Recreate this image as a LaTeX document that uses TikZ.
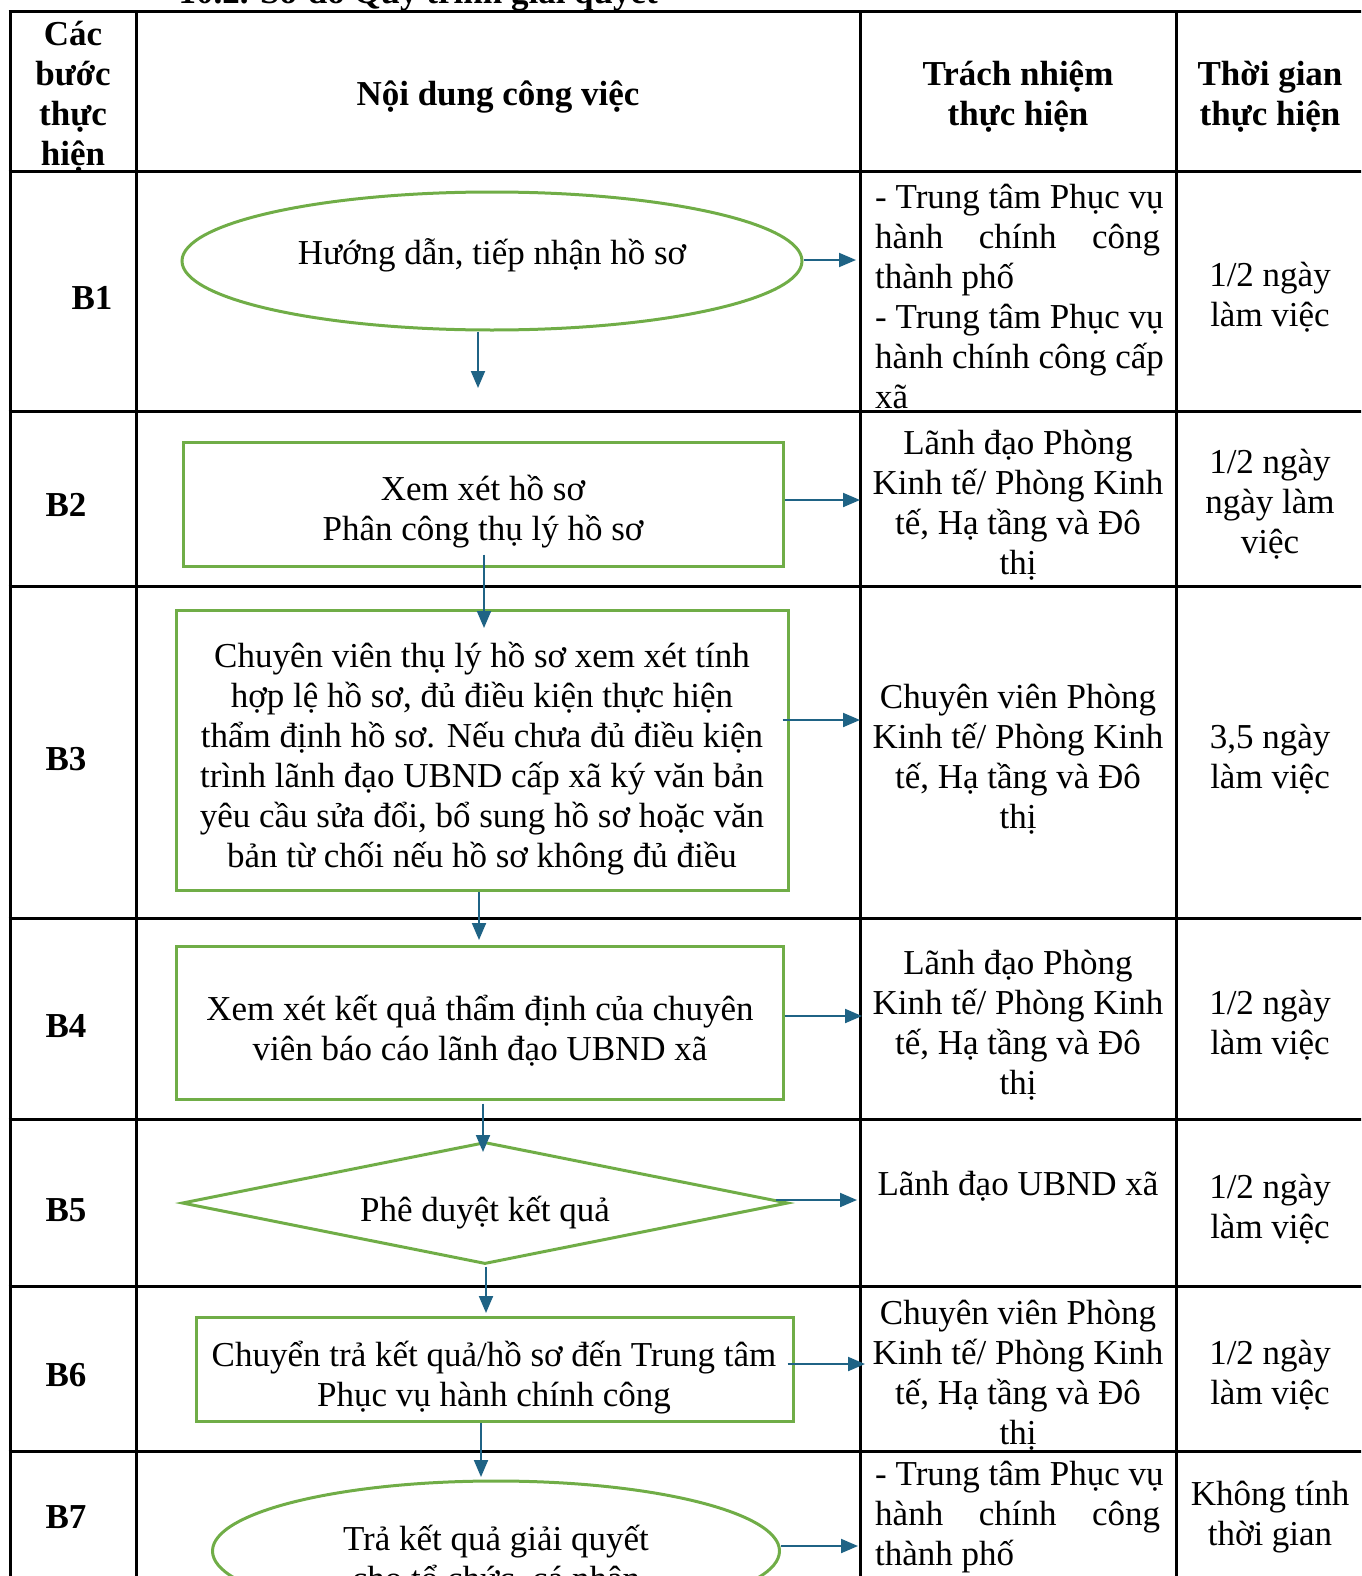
\documentclass[tikz,border=0pt]{standalone}
\usepackage{fontspec}
\setmainfont{Liberation Serif}
\usetikzlibrary{arrows.meta, shapes.geometric}

\definecolor{boxgreen}{RGB}{112,173,71}
\definecolor{arrblue}{RGB}{31,99,133}
\newcommand\cellfont{\fontsize{35}{40}\selectfont}

\begin{document}
\begin{tikzpicture}[
  x=1pt, y=-1pt,
  font=\cellfont,
  grid/.style={line width=3pt, black},
  stepbox/.style={draw=boxgreen, line width=3pt, inner sep=0pt},
  oval/.style={stepbox, ellipse},
  decide/.style={stepbox, diamond, aspect=5},
  arr/.style={-{Triangle[length=17pt, width=14pt]}, line width=2pt, arrblue},
  txt/.style={align=center, inner sep=0pt, yshift=-4pt},
  flowtxt/.style={txt, yshift=-3pt},
  head/.style={txt, font=\cellfont\bfseries},
  stepno/.style={txt, font=\cellfont\bfseries}
]
  \useasboundingbox (0,0) rectangle (1361,1576);
  \clip (0,0) rectangle (1361,1576);

  % table
  \foreach \y in {12,171,411,586,918,1119,1286,1451}
    \draw[grid] (8.5,\y) -- (1380,\y);
  \foreach \x in {10,136,860,1176}
    \draw[grid] (\x,12) -- (\x,1600);

  \node[anchor=base west, font=\cellfont\bfseries] (title) at (175,4) {10.2. Sơ đồ Quy trình giải quyết};

  % header
  \node[head] (hstep) at (73,93) {Các\\bước\\thực\\hiện};
  \node[head] (hjob) at (498,93) {Nội dung công việc};
  \node[head] (hwho) at (1018,93) {Trách nhiệm\\thực hiện};
  \node[head] (hwhen) at (1270,93) {Thời gian\\thực hiện};

  % step numbers
  \node[stepno] (n1) at (92,294) {B1};
  \node[stepno] (n2) at (66,501) {B2};
  \node[stepno] (n3) at (66,755) {B3};
  \node[stepno] (n4) at (66,1022) {B4};
  \node[stepno] (n5) at (66,1206) {B5};
  \node[stepno] (n6) at (66,1371) {B6};
  \node[stepno] (n7) at (66,1513) {B7};

  % flow shapes
  \node[oval, minimum width=620pt, minimum height=138pt] (s1) at (492,261) {};
  \node[stepbox, minimum width=600pt, minimum height=124pt] (s2) at (483,504) {};
  \node[stepbox, minimum width=612pt, minimum height=280pt] (s3) at (482,750) {};
  \node[stepbox, minimum width=607pt, minimum height=153pt] (s4) at (479.5,1022.5) {};
  \node[decide, minimum width=606pt, minimum height=122pt] (s5) at (485,1203) {};
  \node[stepbox, minimum width=597pt, minimum height=104pt] (s6) at (494.5,1369) {};
  \node[oval, minimum width=567pt, minimum height=140pt] (s7) at (496,1551) {};

  % flow texts
  \node[flowtxt] (s1t) at (492,248) {Hướng dẫn, tiếp nhận hồ sơ};
  \node[flowtxt] (s2t) at (483,505) {Xem xét hồ sơ\\Phân công thụ lý hồ sơ};
  \node[flowtxt] (s3t) at (482,752)
    {Chuyên viên thụ lý hồ sơ xem xét tính\\hợp lệ hồ sơ, đủ điều kiện thực hiện\\thẩm định hồ sơ. Nếu chưa đủ điều kiện\\trình lãnh đạo UBND cấp xã ký văn bản\\yêu cầu sửa đổi, bổ sung hồ sơ hoặc văn\\bản từ chối nếu hồ sơ không đủ điều};
  \node[flowtxt] (s4t) at (480,1024) {Xem xét kết quả thẩm định của chuyên\\viên báo cáo lãnh đạo UBND xã};
  \node[flowtxt] (s5t) at (485,1206) {Phê duyệt kết quả};
  \node[flowtxt] (s6t) at (494,1371) {Chuyển trả kết quả/hồ sơ đến Trung tâm\\Phục vụ hành chính công};
  \node[flowtxt] (s7t) at (496,1553) {Trả kết quả giải quyết\\cho tổ chức, cá nhân};

  % responsible
  \node[txt, align=left, anchor=west] (w1) at (875,292)
    {- Trung tâm Phục vụ\\\makebox[285pt][s]{hành chính công}\\thành phố\\- Trung tâm Phục vụ\\hành chính công cấp\\xã};
  \node[txt] (w2) at (1018,501) {Lãnh đạo Phòng\\Kinh tế/ Phòng Kinh\\tế, Hạ tầng và Đô\\thị};
  \node[txt] (w3) at (1018,755) {Chuyên viên Phòng\\Kinh tế/ Phòng Kinh\\tế, Hạ tầng và Đô\\thị};
  \node[txt] (w4) at (1018,1021) {Lãnh đạo Phòng\\Kinh tế/ Phòng Kinh\\tế, Hạ tầng và Đô\\thị};
  \node[txt] (w5) at (1018,1182) {Lãnh đạo UBND xã};
  \node[txt] (w6) at (1018,1371) {Chuyên viên Phòng\\Kinh tế/ Phòng Kinh\\tế, Hạ tầng và Đô\\thị};
  \node[txt, align=left, anchor=west] (w7) at (875,1513)
    {- Trung tâm Phục vụ\\\makebox[285pt][s]{hành chính công}\\thành phố};

  % time
  \node[txt] (t1) at (1270,293) {1/2 ngày\\làm việc};
  \node[txt] (t2) at (1270,500) {1/2 ngày\\ngày làm\\việc};
  \node[txt] (t3) at (1270,755) {3,5 ngày\\làm việc};
  \node[txt] (t4) at (1270,1021) {1/2 ngày\\làm việc};
  \node[txt] (t5) at (1270,1205) {1/2 ngày\\làm việc};
  \node[txt] (t6) at (1270,1371) {1/2 ngày\\làm việc};
  \node[txt] (t7) at (1270,1513) {Không tính\\thời gian};

  % arrows to the right
  \coordinate (r1) at (856,260);
  \coordinate (r2) at (860,500);
  \coordinate (r3) at (860,720);
  \coordinate (r4) at (862,1016);
  \coordinate (r5) at (857,1200);
  \coordinate (r6) at (865,1364);
  \coordinate (r7) at (858,1546);
  \draw[arr] (s1.east |- r1) -- (r1);
  \draw[arr] (s2.east |- r2) -- (r2);
  \draw[arr] ([xshift=-7pt]s3.east |- r3) -- (r3);
  \draw[arr] (s4.east |- r4) -- (r4);
  \draw[arr] ([xshift=-14pt]s5.east |- r5) -- (r5);
  \draw[arr] ([xshift=-7pt]s6.east |- r6) -- (r6);
  \draw[arr] (s7.east |- r7) -- (r7);

  % arrows down
  \coordinate (d1) at (478,388);
  \coordinate (d2) at (484,628);
  \coordinate (d3) at (479,940);
  \coordinate (d4) at (483,1152);
  \coordinate (d5) at (486,1313);
  \coordinate (d6) at (481,1477);
  \draw[arr] (s1.south -| d1) -- (d1);
  \draw[arr] ([yshift=13pt]s2.south -| d2) -- (d2);
  \draw[arr] (s3.south -| d3) -- (d3);
  \draw[arr] ([yshift=-3pt]s4.south -| d4) -- (d4);
  \draw[arr] ([yshift=-1pt]s5.south -| d5) -- (d5);
  \draw[arr] (s6.south -| d6) -- (d6);
\end{tikzpicture}
\end{document}
